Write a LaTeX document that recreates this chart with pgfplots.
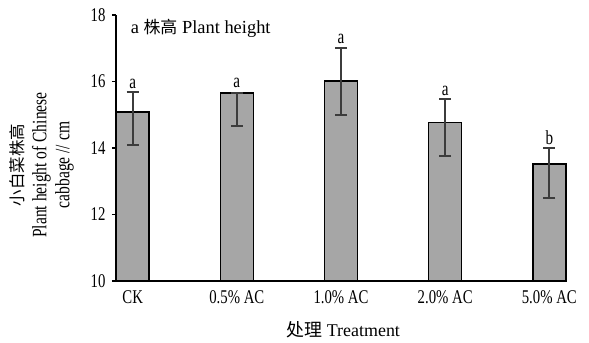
\documentclass[border=0pt]{standalone}
\usepackage{pgfplots}
\pgfplotsset{compat=1.18}
\usepackage{fontspec}
\setmainfont{Liberation Serif}
\newfontfamily\cond[FakeStretch=0.76]{Liberation Serif}
\newfontfamily\cjk{Noto Sans CJK SC}
\definecolor{barfill}{HTML}{A6A6A6}
\definecolor{errcol}{HTML}{3C3C3C}
\begin{document}
\begin{tikzpicture}
\path[use as bounding box] (0,0) rectangle (589bp,343bp);
\begin{axis}[
  at={(116bp,62bp)}, anchor=south west,
  scale only axis, width=450bp, height=266bp,
  xmin=-0.16, xmax=4.16, ymin=10, ymax=18,
  axis x line*=bottom, axis y line*=left,
  axis line style={line width=1.8bp, -},
  xtick={0,1,2,3,4},
  xticklabels={CK,0.5\% AC,1.0\% AC,2.0\% AC,5.0\% AC},
  x tick style={draw=none},
  ytick={10,12,14,16,18},
  y tick style={line width=1.2bp, black},
  major tick length=4bp, tick align=outside,
  /pgf/number format/assume math mode=true,
  tick label style={font=\cond\fontsize{19.5}{21}\selectfont},
  xticklabel style={yshift=-2bp},
  yticklabel style={xshift=-3bp},
  ylabel={{\cjk\fontsize{16.5}{23}\selectfont 小白菜株高}\\Plant height of Chinese\\cabbage // cm},
  ylabel style={at={(axis description cs:-0.165,0.436)}, anchor=center, align=center, font=\cond\fontsize{20.5}{23}\selectfont},
  xlabel={{\cjk 处理} Treatment},
  xlabel style={at={(axis description cs:0.505,-0.184)}, anchor=center, font=\fontsize{18}{20}\selectfont},
  clip=false,
]
\addplot[ybar, bar width=33bp, bar shift=0pt, fill=barfill, draw=black, line width=1.6bp,
  error bars/.cd, y dir=both, y explicit,
  error bar style={line width=2bp, draw=errcol},
  error mark options={rotate=90, mark size=6bp, line width=2bp, draw=errcol}]
table[x=x, y=y, y error plus=ep, y error minus=em] {
x y ep em
0 15.09 0.59 0.99
1 15.66 0.00 0.99
2 16.02 1.00 1.02
3 14.77 0.71 1.00
4 13.52 0.48 1.01
};
\addplot[only marks, mark=none, nodes near coords, point meta=explicit symbolic,
  nodes near coords style={anchor=south, yshift=0bp, font=\cond\fontsize{20}{20}\selectfont}]
table[x=x, y=y, meta=lab] {
x y lab
0 15.68 a
1 15.70 a
2 17.02 a
3 15.48 a
4 14.00 b
};
\node[anchor=west, font=\fontsize{18.5}{20}\selectfont] at (rel axis cs:0.025,0.95) {a {\cjk\fontsize{17}{20}\selectfont 株高} Plant height};
\end{axis}
\end{tikzpicture}
\end{document}
